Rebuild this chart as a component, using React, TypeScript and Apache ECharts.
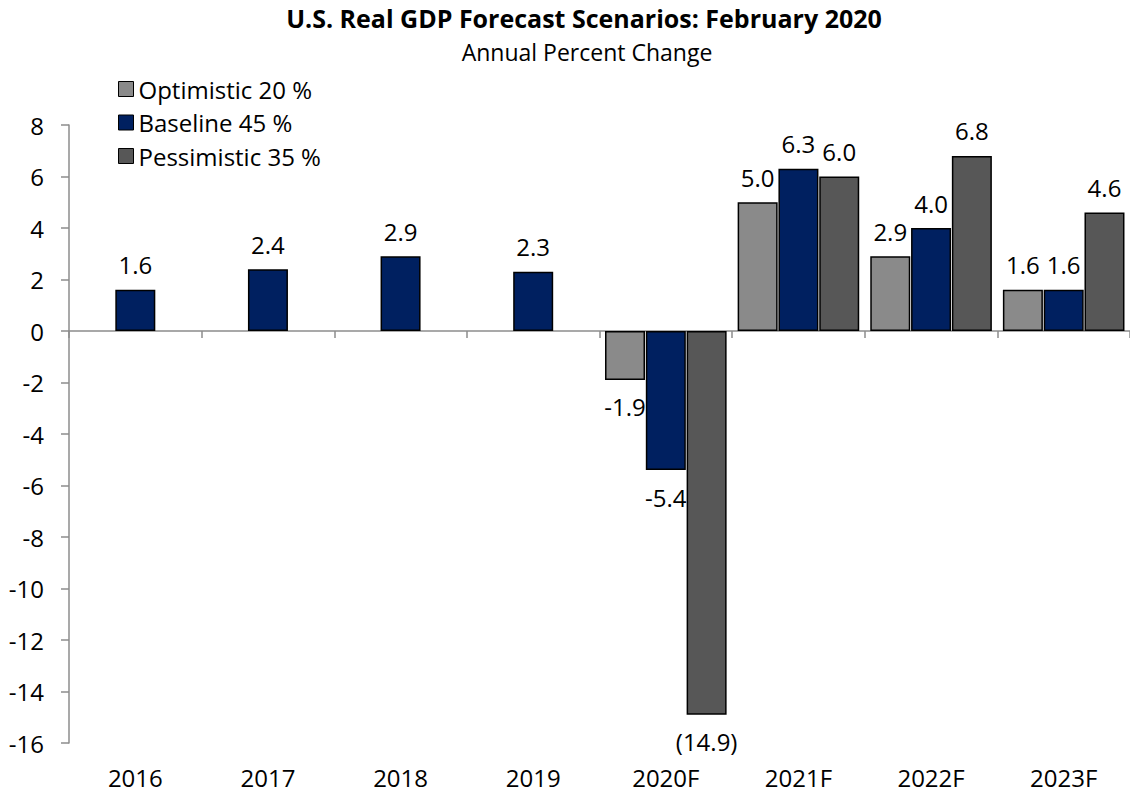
import React, { useEffect, useRef } from "react";
import * as echarts from "echarts";

const categories = ["2016", "2017", "2018", "2019", "2020F", "2021F", "2022F", "2023F"];
const optimistic = [null, null, null, null, -1.9, 5.0, 2.9, 1.6];
const baseline = [1.6, 2.4, 2.9, 2.3, -5.4, 6.3, 4.0, 1.6];
const pessimistic = [null, null, null, null, -14.9, 6.0, 6.8, 4.6];
const seriesNames = ["Optimistic 20 %", "Baseline 45 %", "Pessimistic 35 %"];
const yTicks = { min: -16, max: 8, interval: 2 };

const FONT = "Open Sans";
const FS = 24;

function fmt(v: number) {
  if (v <= -10) return `(${Math.abs(v).toFixed(1)})`;
  return v.toFixed(1);
}

function toData(arr: (number | null)[]) {
  return arr.map((v) =>
    v === null
      ? null
      : v < 0
      ? { value: v, label: { position: "bottom", distance: 15 } }
      : { value: v }
  );
}

export default function App() {
  const ref = useRef<HTMLDivElement>(null);
  useEffect(() => {
    if (!ref.current) return;
    const chart = echarts.init(ref.current, null, { renderer: "svg" });
    const colors = ["#8a8a8a", "#002060", "#575757"];
    const arrays = [optimistic, baseline, pessimistic];
    chart.setOption({
      animation: false,
      textStyle: { fontFamily: FONT },
      title: [
        {
          text: "U.S. Real GDP Forecast Scenarios: February 2020",
          left: 579,
          textAlign: "center",
          top: 0,
          textStyle: { fontFamily: FONT, fontWeight: "bold", fontSize: 25, color: "#000" },
        },
        {
          text: "Annual Percent Change",
          left: 582,
          textAlign: "center",
          top: 35,
          textStyle: { fontFamily: FONT, fontWeight: "normal", fontSize: 23, color: "#000" },
        },
      ],
      legend: {
        orient: "vertical",
        left: 113,
        top: 72,
        itemWidth: 15,
        itemHeight: 15,
        itemGap: 9.5,
        icon: "rect",
        textStyle: { fontFamily: FONT, fontSize: FS, lineHeight: 24, color: "#000" },
        itemStyle: { borderColor: "#000", borderWidth: 1 },
        data: seriesNames,
      },
      grid: { left: 69, top: 125, height: 618, width: 1072 },
      xAxis: [
        {
          type: "category",
          data: categories,
          axisLine: { onZero: true, lineStyle: { color: "#8c8c8c", width: 1.5 } },
          axisTick: { show: true, length: 7, lineStyle: { color: "#8c8c8c", width: 1.5 } },
          axisLabel: { show: false },
        },
        {
          type: "category",
          data: categories,
          position: "bottom",
          axisLine: { show: false, onZero: false },
          axisTick: { show: false },
          axisLabel: { margin: 22, fontFamily: FONT, fontSize: FS, color: "#000" },
        },
      ],
      yAxis: {
        type: "value",
        min: yTicks.min,
        max: yTicks.max,
        interval: yTicks.interval,
        splitLine: { show: false },
        axisLine: { show: true, lineStyle: { color: "#8c8c8c", width: 1.5 } },
        axisTick: { show: true, length: 8, lineStyle: { color: "#8c8c8c", width: 1.5 } },
        axisLabel: { margin: 25, fontFamily: FONT, fontSize: FS, color: "#000" },
      },
      series: arrays.map((arr, i) => ({
        name: seriesNames[i],
        type: "bar",
        xAxisIndex: 0,
        data: toData(arr),
        barWidth: 40,
        barGap: "2%",
        itemStyle: { color: colors[i], borderColor: "#000", borderWidth: 1.5 },
        label: {
          show: true,
          position: "top",
          distance: 13,
          fontFamily: FONT,
          fontSize: FS,
          color: "#000",
          formatter: (p: any) => fmt(p.value),
        },
      })),
    });
    return () => chart.dispose();
  }, []);
  return (
    <div
      ref={ref}
      style={{ position: "absolute", left: 0, top: 0, width: 1130, height: 797, background: "#fff" }}
    />
  );
}
